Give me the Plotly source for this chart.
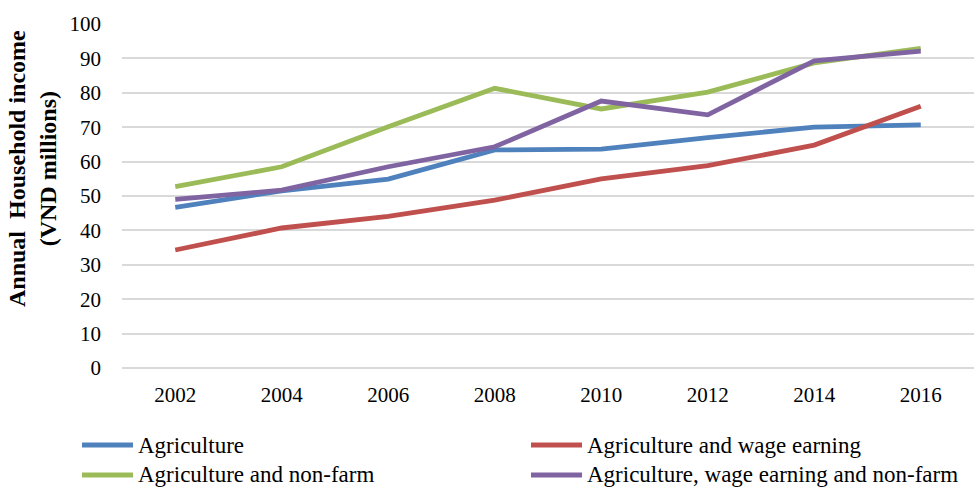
import plotly.graph_objects as go

years = ["2002", "2004", "2006", "2008", "2010", "2012", "2014", "2016"]
agriculture = [46.7, 51.5, 54.9, 63.4, 63.6, 67.0, 70.0, 70.7]
agri_wage = [34.3, 40.7, 44.1, 48.8, 55.0, 58.8, 64.8, 76.1]
agri_nonfarm = [52.7, 58.5, 70.1, 81.3, 75.3, 80.2, 88.7, 92.9]
agri_wage_nonfarm = [49.0, 51.7, 58.5, 64.3, 77.6, 73.6, 89.3, 92.1]

series_names = ["Agriculture", "Agriculture and wage earning",
                "Agriculture and non-farm", "Agriculture, wage earning and non-farm"]
series_vals = [agriculture, agri_wage, agri_nonfarm, agri_wage_nonfarm]
colors = ["#4F81BD", "#C0504D", "#9BBB59", "#8064A2"]

FONT = "Liberation Serif, serif"

W, H = 974, 489
L, R, T, B = 122, 0, 24, 121
PW, PH = W - L - R, H - T - B

def px_x(px):
    return (px - L) / PW

def px_y(py):
    return (H - B - py) / PH

fig = go.Figure()
for name, vals, c in zip(series_names, series_vals, colors):
    fig.add_trace(go.Scatter(x=years, y=vals, mode="lines", name=name,
                             line=dict(color=c, width=4.8), showlegend=False))

# manual legend (2 columns, 2 rows)
legend_pos = [(82, 445), (531, 445), (82, 475), (531, 475)]
for (lx, ly), name, c in zip(legend_pos, series_names, colors):
    fig.add_shape(type="line", xref="paper", yref="paper",
                  x0=px_x(lx), x1=px_x(lx + 51), y0=px_y(ly), y1=px_y(ly),
                  line=dict(color=c, width=4.8))
    fig.add_annotation(text=name, xref="paper", yref="paper",
                       x=px_x(lx + 54), y=px_y(ly), xanchor="left", yanchor="middle",
                       showarrow=False, font=dict(family=FONT, size=23, color="black"))

fig.update_layout(
    width=W, height=H,
    margin=dict(l=L, r=R, t=T, b=B, autoexpand=False),
    paper_bgcolor="white", plot_bgcolor="white",
    font=dict(family=FONT, size=21, color="black"),
    showlegend=False,
)
fig.update_xaxes(type="category", range=[-0.5, 7.5], showgrid=False, showline=False,
                 ticks="", ticklabelstandoff=12, tickfont=dict(family=FONT, size=21),
                 zeroline=False)
fig.update_yaxes(range=[0, 100], dtick=10, showgrid=True, gridcolor="#D9D9D9", gridwidth=1.5,
                 zeroline=True, zerolinecolor="#D9D9D9", zerolinewidth=1.5,
                 showline=False, ticks="", ticklabelstandoff=20,
                 tickfont=dict(family=FONT, size=21))
fig.add_annotation(text="<b>Annual  Household income</b><br><b>(VND millions)</b>",
                   xref="paper", yref="paper", x=px_x(32), y=px_y(169),
                   xanchor="center", yanchor="middle",
                   textangle=-90, showarrow=False,
                   font=dict(family=FONT, size=24, color="black"))

fig.write_html("out.html")
